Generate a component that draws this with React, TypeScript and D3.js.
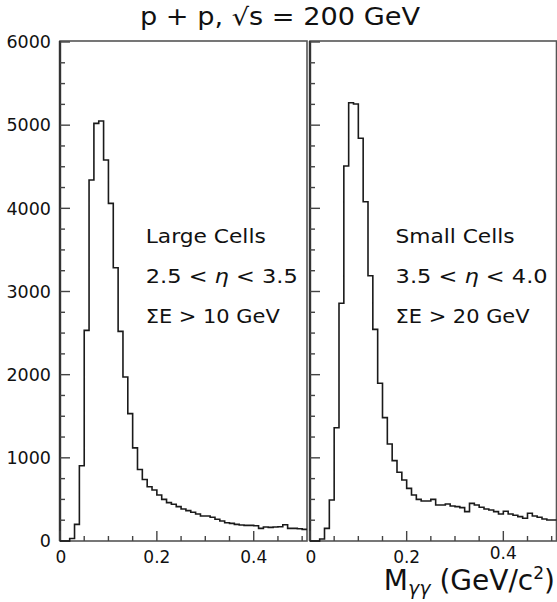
import React from "react";
import * as d3 from "d3";

// Bin lower edges are i * 0.01 GeV/c^2, i = 0..50
const BIN_WIDTH = 0.01;
const largeCells = [0, 0, 30, 200, 904, 2532, 4340, 5022, 5050, 4581, 4060, 3286, 2520, 1972, 1532, 1120, 860, 740, 652, 613, 553, 501, 461, 441, 413, 385, 365, 345, 325, 301, 301, 285, 261, 240, 220, 212, 200, 192, 188, 188, 184, 152, 168, 164, 168, 172, 196, 152, 152, 148, 140];
const smallCells = [0, 0, 24, 152, 493, 1362, 2858, 4509, 5270, 5254, 4842, 4080, 3190, 2545, 1896, 1483, 1166, 966, 826, 733, 633, 553, 501, 481, 481, 501, 433, 433, 445, 421, 413, 401, 353, 453, 433, 405, 385, 373, 353, 325, 357, 325, 309, 293, 273, 333, 301, 285, 265, 253, 253];

const yTickLabels = [0, 1000, 2000, 3000, 4000, 5000, 6000];
const xTickLabels = [0, 0.2, 0.4];

const panels = [
  { data: largeCells, lines: ["Large Cells", ["2.5 < ", "η", " < 3.5"], "ΣE > 10 GeV"], widths: [120, 152, 134], range: [60, 307], showY: true },
  { data: smallCells, lines: ["Small Cells", ["3.5 < ", "η", " < 4.0"], "ΣE > 20 GeV"], widths: [119, 152, 134], range: [310, 556.5], showY: false },
];

const FONT = "DejaVu Sans, sans-serif";

export default function App() {
  const W = 557, H = 602;
  const y = d3.scaleLinear().domain([0, 6000]).range([541, 42]);
  const yMinor = d3.range(0, 6001, 250);
  const xMinor = d3.range(0, 0.5001, 0.05);

  return (
    <svg width={W} height={H} style={{ position: "absolute", left: 0, top: 0, background: "#fff" }}>
      <text x={280} y={25} textAnchor="middle" fontFamily={FONT} fontSize={24} textLength={280} lengthAdjust="spacingAndGlyphs" fill="#111">
        p + p, √s = 200 GeV
      </text>
      {panels.map((p, pi) => {
        const x = d3.scaleLinear().domain([0, 0.51]).range(p.range as [number, number]);
        const pts: [number, number][] = p.data.map((v, i) => [i * BIN_WIDTH, v]);
        pts.push([p.data.length * BIN_WIDTH, p.data[p.data.length - 1]]);
        const line = d3.line<[number, number]>().x((d) => x(d[0])).y((d) => y(d[1])).curve(d3.curveStepAfter);
        const x0 = x(0), x1 = x(0.51), yTop = y(6000), yBot = y(0);
        const tx = x(0.175);
        return (
          <g key={pi}>
            <rect x={x0} y={yTop - 1} width={x1 - x0} height={yBot - yTop + 1} fill="none" stroke="#555" strokeWidth={1.6} />
            <line x1={x0} x2={x0} y1={yTop - 1} y2={yBot} stroke="#333" strokeWidth={2.4} />
            {yMinor.map((t) => (
              <line key={"yt" + t} x1={x0} x2={x0 + (t % 1000 === 0 ? 10 : 5)} y1={y(t)} y2={y(t)} stroke="#444" strokeWidth={1.4} />
            ))}
            {xMinor.map((t, i) => {
              const major = i % 4 === 0;
              return <line key={"xt" + i} x1={x(t)} x2={x(t)} y1={yBot} y2={yBot - (major ? 10 : 5)} stroke="#444" strokeWidth={1.4} />;
            })}
            <path d={line(pts) || ""} fill="none" stroke="#1a1a1a" strokeWidth={1.6} />
            {p.showY && yTickLabels.map((t) => (
              <text key={"yl" + t} x={51} y={y(t)} dy="0.36em" textAnchor="end" fontFamily={FONT} fontSize={17.5} fill="#111">{t}</text>
            ))}
            {xTickLabels.map((t) => (
              <text key={"xl" + t} x={x(t) + (t === 0 ? 1 : 0)} y={pi === 1 && t === 0.4 ? 559 : 563} textAnchor="middle" fontFamily={FONT} fontSize={17} fill="#111">{t === 0 ? "0" : String(t)}</text>
            ))}
            {p.lines.map((ln, li) => (
              <text key={"tl" + li} x={tx + 1} y={243 + li * 40} fontFamily={FONT} fontSize={20} fill="#111" textLength={p.widths[li]} lengthAdjust="spacingAndGlyphs">
                {Array.isArray(ln) ? (
                  <>
                    <tspan>{ln[0]}</tspan>
                    <tspan fontStyle="italic">{ln[1]}</tspan>
                    <tspan>{ln[2]}</tspan>
                  </>
                ) : ln}
              </text>
            ))}
          </g>
        );
      })}
      <text x={555} y={590} textAnchor="end" fontFamily={FONT} fontSize={28} fill="#111">
        M
        <tspan fontSize={19} fontStyle="italic" dy={5}>γγ</tspan>
        <tspan dy={-5}> (GeV/c</tspan>
        <tspan fontSize={17} dy={-11}>2</tspan>
        <tspan dy={11}>)</tspan>
      </text>
    </svg>
  );
}
